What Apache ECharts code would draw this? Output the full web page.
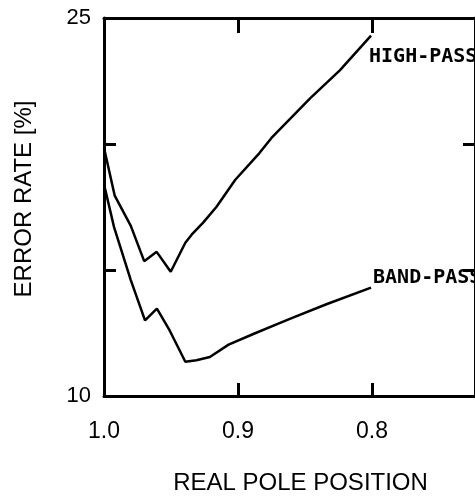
<!DOCTYPE html>
<html>
<head>
<meta charset="utf-8">
<script src="https://cdn.jsdelivr.net/npm/echarts@6/dist/echarts.min.js"></script>
<style>
  html, body { margin: 0; padding: 0; background: #fff; }
  #chart { width: 475px; height: 500px; }
</style>
</head>
<body>
<div id="chart"></div>
<script>
  // real pole position (x) and error rate in % (y)
  const highPassX = [1.0, 0.992, 0.980, 0.970, 0.9607, 0.9502, 0.9393, 0.9346, 0.926, 0.916, 0.902, 0.884, 0.875, 0.846, 0.824, 0.8007]
  const highPassY = [19.85, 17.95, 16.75, 15.35, 15.72, 14.93, 16.08, 16.40, 16.88, 17.51, 18.58, 19.64, 20.24, 21.82, 22.92, 24.30]

  const bandPassX = [1.0, 0.9925, 0.980, 0.9694, 0.9605, 0.951, 0.9393, 0.931, 0.921, 0.907, 0.889, 0.869, 0.859, 0.834, 0.8007]
  const bandPassY = [18.40, 16.70, 14.60, 13.00, 13.47, 12.60, 11.36, 11.42, 11.55, 12.04, 12.45, 12.89, 13.11, 13.64, 14.30]

  const xTicks = [1.0, 0.9, 0.8]
  const xTopTicks = [0.9, 0.8]
  const yLabels = [10, 25]

  // visible range of the (cropped) x axis
  const xMin = 0.7231
  const xMax = 1.0

  const black = '#000'
  const sans = 'Liberation Sans'

  function pairs(xs, ys) {
    return xs.map((x, i) => [x, ys[i]])
  }

  function endMark(xs, ys, text, offset) {
    const n = xs.length - 1
    return {
      symbol: 'circle',
      symbolSize: 0,
      silent: true,
      data: [{
        coord: [xs[n], ys[n]],
        label: {
          show: true,
          formatter: text,
          position: [0, 0],
          align: 'left',
          verticalAlign: 'middle',
          offset: offset,
          color: black,
          fontFamily: 'DejaVu Sans Mono',
          fontWeight: 'bold',
          fontSize: 20
        }
      }]
    }
  }

  const axisLine = { show: true, onZero: false, lineStyle: { color: black, width: 3 } }

  const option = {
    animation: false,
    backgroundColor: '#fff',
    grid: { left: 104, top: 18, width: 371, height: 379 },
    xAxis: [{
      type: 'value',
      position: 'bottom',
      inverse: true,
      min: xMin,
      max: xMax,
      axisLine: axisLine,
      splitLine: { show: false },
      axisTick: { show: true, inside: true, length: 13, customValues: xTicks, lineStyle: { color: black, width: 3 } },
      axisLabel: {
        customValues: xTicks,
        formatter: v => v.toFixed(1),
        margin: 24,
        color: black,
        fontFamily: sans,
        fontSize: 23
      },
      name: 'REAL POLE POSITION',
      nameLocation: 'middle',
      nameGap: 75,
      nameTextStyle: { color: black, fontFamily: sans, fontSize: 24, padding: [0, 0, 0, 22] }
    }, {
      type: 'value',
      position: 'top',
      inverse: true,
      min: xMin,
      max: xMax,
      axisLine: axisLine,
      splitLine: { show: false },
      axisTick: { show: true, inside: true, length: 15, customValues: xTopTicks, lineStyle: { color: black, width: 3 } },
      axisLabel: { show: false }
    }],
    yAxis: [{
      type: 'value',
      position: 'left',
      min: 10,
      max: 25,
      interval: 5,
      axisLine: axisLine,
      splitLine: { show: false },
      axisTick: { show: true, inside: true, length: 12, lineStyle: { color: black, width: 3 } },
      axisLabel: {
        formatter: v => yLabels.includes(v) ? String(v) : '',
        margin: 13,
        color: black,
        fontFamily: sans,
        fontSize: 22
      },
      name: 'ERROR RATE [%]',
      nameLocation: 'middle',
      nameRotate: 90,
      nameGap: 68,
      nameTextStyle: { color: black, fontFamily: sans, fontSize: 24, padding: [0, 0, 0, 16] }
    }, {
      type: 'value',
      position: 'right',
      min: 10,
      max: 25,
      interval: 5,
      axisLine: axisLine,
      splitLine: { show: false },
      axisTick: { show: true, inside: true, length: 12, lineStyle: { color: black, width: 3 } },
      axisLabel: { show: false }
    }],
    series: [{
      name: 'HIGH-PASS',
      type: 'line',
      xAxisIndex: 0,
      yAxisIndex: 0,
      showSymbol: false,
      symbol: 'none',
      lineStyle: { color: black, width: 2.5 },
      data: pairs(highPassX, highPassY),
      markPoint: endMark(highPassX, highPassY, 'HIGH-PASS', [-2, 21])
    }, {
      name: 'BAND-PASS',
      type: 'line',
      xAxisIndex: 0,
      yAxisIndex: 0,
      showSymbol: false,
      symbol: 'none',
      lineStyle: { color: black, width: 2.5 },
      data: pairs(bandPassX, bandPassY),
      markPoint: endMark(bandPassX, bandPassY, 'BAND-PASS', [2, -10])
    }]
  }

  const chart = echarts.init(document.getElementById('chart'))
  chart.setOption(option)
</script>
</body>
</html>
